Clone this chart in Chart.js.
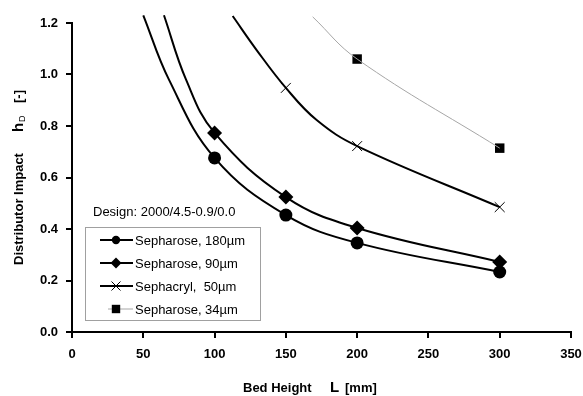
<!DOCTYPE html>
<html>
<head>
<meta charset="utf-8">
<script src="https://cdn.jsdelivr.net/npm/chart.js@4/dist/chart.umd.min.js"></script>
<style>
  html, body { margin: 0; padding: 0; background: #fff; }
  #wrap { width: 583px; height: 396px; }
</style>
</head>
<body>
<div id="wrap"><canvas id="impactChart" width="583" height="396"></canvas></div>
<script>
// measured points (bed height L [mm] -> distributor impact hD)
const heights180 = [100, 150, 200, 300];
const impact180 = [0.676, 0.454, 0.346, 0.233];
const heights90 = [100, 150, 200, 300];
const impact90 = [0.773, 0.524, 0.404, 0.272];
const heights50 = [150, 200, 300];
const impact50 = [0.948, 0.722, 0.485];
const heights34 = [200, 300];
const impact34 = [1.06, 0.714];

// smoothed trend lines
const traceX180 = [50, 68, 100, 150, 200, 300];
const traceY180 = [1.23, 0.98, 0.676, 0.454, 0.346, 0.233];
const traceX90 = [64.5, 80, 100, 150, 200, 300];
const traceY90 = [1.23, 0.98, 0.773, 0.524, 0.404, 0.272];
const traceX50 = [112.7, 129.5, 150, 171.6, 200, 300];
const traceY50 = [1.227, 1.095, 0.948, 0.823, 0.722, 0.485];
const traceX34 = [168.8, 200, 300];
const traceY34 = [1.224, 1.06, 0.714];

const seriesLabels = ["Sepharose, 180µm", "Sepharose, 90µm", "Sephacryl,  50µm", "Sepharose, 34µm"];
const xTicks = [0, 50, 100, 150, 200, 250, 300, 350];
const yTicks = [0, 0.2, 0.4, 0.6, 0.8, 1.0, 1.2];

const FONT = "Arial, 'Liberation Sans', sans-serif";
const toXY = (xs, ys) => xs.map((x, i) => ({ x: x, y: ys[i] }));

const series = [
  { label: seriesLabels[0], trace: toXY(traceX180, traceY180), pts: toXY(heights180, impact180),
    color: "#000", width: 2, marker: "circle", r: 6.5 },
  { label: seriesLabels[1], trace: toXY(traceX90, traceY90), pts: toXY(heights90, impact90),
    color: "#000", width: 2, marker: "diamond", r: 7.5 },
  { label: seriesLabels[2], trace: toXY(traceX50, traceY50), pts: toXY(heights50, impact50),
    color: "#000", width: 2, marker: "cross", r: 7 },
  { label: seriesLabels[3], trace: toXY(traceX34, traceY34), pts: toXY(heights34, impact34),
    color: "#a6a6a6", width: 1, marker: "square", r: 6.7 },
];

const pointStyleOf = { circle: "circle", diamond: "rectRot", cross: "crossRot", square: "rect" };

const datasets = [];
series.forEach(s => {
  datasets.push({
    label: s.label,
    data: s.trace,
    showLine: true,
    borderColor: s.color,
    borderWidth: s.width,
    pointRadius: 0,
    tension: 0.4,
    clip: false,
  });
  datasets.push({
    label: s.label + " pts",
    data: s.pts,
    showLine: false,
    pointStyle: pointStyleOf[s.marker],
    pointRadius: s.r,
    pointBackgroundColor: "#000",
    pointBorderColor: "#000",
    pointBorderWidth: s.marker === "cross" ? 1 : 0,
  });
});

// marker drawing for the hand-made legend
function drawMarker(ctx, kind, x, y, r) {
  ctx.save();
  ctx.fillStyle = "#000";
  ctx.strokeStyle = "#000";
  ctx.lineWidth = 1;
  ctx.beginPath();
  if (kind === "circle") {
    ctx.arc(x, y, r, 0, Math.PI * 2);
    ctx.fill();
  } else if (kind === "diamond") {
    ctx.moveTo(x, y - r); ctx.lineTo(x + r, y); ctx.lineTo(x, y + r); ctx.lineTo(x - r, y);
    ctx.closePath();
    ctx.fill();
  } else if (kind === "cross") {
    ctx.moveTo(x - r, y - r); ctx.lineTo(x + r, y + r);
    ctx.moveTo(x + r, y - r); ctx.lineTo(x - r, y + r);
    ctx.stroke();
  } else {
    ctx.rect(x - r, y - r, 2 * r, 2 * r);
    ctx.fill();
  }
  ctx.restore();
}

const annotations = {
  id: "annotations",
  afterDraw(chart) {
    const ctx = chart.ctx;
    ctx.save();
    ctx.fillStyle = "#000";
    ctx.textBaseline = "alphabetic";
    ctx.textAlign = "left";

    // y axis title (rotated)
    ctx.save();
    ctx.translate(23, 265);
    ctx.rotate(-Math.PI / 2);
    ctx.font = "bold 13px " + FONT;
    ctx.fillText("Distributor Impact", 0, 0);
    ctx.font = "bold 15px " + FONT;
    ctx.fillText("h", 133, 0);
    ctx.font = "9px " + FONT;
    ctx.fillText("D", 143, 2);
    ctx.font = "bold 13px " + FONT;
    ctx.fillText("[-]", 162, 0);
    ctx.restore();

    // x axis title
    ctx.font = "bold 13px " + FONT;
    ctx.fillText("Bed Height", 243, 392);
    ctx.font = "bold 15px " + FONT;
    ctx.fillText("L", 330, 392);
    ctx.font = "bold 13px " + FONT;
    ctx.fillText("[mm]", 345, 392);

    // legend
    ctx.font = "13px " + FONT;
    ctx.textBaseline = "middle";
    ctx.fillText("Design: 2000/4.5-0.9/0.0", 93, 212);
    ctx.strokeStyle = "#a0a0a0";
    ctx.lineWidth = 1;
    ctx.strokeRect(85.5, 227.5, 175, 93);
    series.forEach((s, i) => {
      const y = 240 + i * 23;
      ctx.beginPath();
      ctx.strokeStyle = s.color;
      ctx.lineWidth = s.width;
      ctx.moveTo(i === 3 ? 108 : 100, y);
      ctx.lineTo(133, y);
      ctx.stroke();
      const r = s.marker === "cross" ? 4.5 : s.marker === "diamond" ? 5.5 : 4.2;
      drawMarker(ctx, s.marker, 116, y, r);
      ctx.fillStyle = "#000";
      ctx.fillText(s.label, 135, y + 1);
    });
    ctx.restore();
  },
};

new Chart(document.getElementById("impactChart"), {
  type: "scatter",
  data: { datasets: datasets },
  plugins: [annotations],
  options: {
    responsive: false,
    animation: false,
    layout: { padding: { top: 23, right: 0, left: 0, bottom: 0 } },
    plugins: { legend: { display: false }, tooltip: { enabled: false } },
    scales: {
      x: {
        type: "linear",
        min: 0,
        max: 350,
        afterBuildTicks: scale => { scale.ticks = xTicks.map(v => ({ value: v })); },
        afterFit: scale => { scale.height = 64; scale.paddingRight = 12; scale.paddingLeft = 0; },
        ticks: { color: "#000", font: { family: FONT, size: 13, weight: "bold" }, padding: 9 },
        grid: { drawOnChartArea: false, drawTicks: true, tickLength: 6, color: "#000", lineWidth: 2 },
        border: { color: "#000", width: 2 },
      },
      y: {
        min: 0,
        max: 1.2,
        afterBuildTicks: scale => { scale.ticks = yTicks.map(v => ({ value: v })); },
        afterFit: scale => { scale.width = 72; },
        ticks: {
          color: "#000",
          font: { family: FONT, size: 13, weight: "bold" },
          padding: 8,
          callback: v => v.toFixed(1),
        },
        grid: { drawOnChartArea: false, drawTicks: true, tickLength: 6, color: "#000", lineWidth: 2 },
        border: { color: "#000", width: 2 },
      },
    },
  },
});
</script>
</body>
</html>
